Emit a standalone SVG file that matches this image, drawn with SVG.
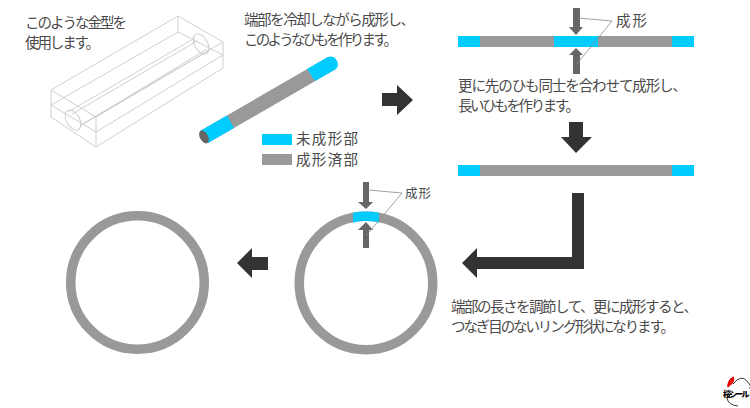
<svg xmlns="http://www.w3.org/2000/svg" width="750" height="408" viewBox="0 0 750 408">
<style>
text{font-family:"Noto Sans CJK JP","Noto Sans",sans-serif;font-size:14.500px;fill:#4a4a4a;font-weight:400}
.w{fill:none;stroke:#cacaca;stroke-width:.9}
.l{fill:none;stroke:#8a8a8a;stroke-width:.8}
.c{fill:#00ccff}.g{fill:#999}.d{fill:#333}.m{fill:#666}
</style>
<rect width="750" height="408" fill="#fff"/>
<g id="mold">
<path class="w" d="M51 90L178 16L223 42L96 117ZM51 90V117L96 147V117M96 147L223 68V42M51 105L96 132L223 55L178 32L51 105M178 16V32"/>
<path class="w" d="M68 112L195 38M72 114L197 41M80 126L207 49M84 123L208 51"/>
<ellipse class="w" cx="73" cy="120" rx="6.500" ry="11" transform="rotate(-30 73 120)"/>
<ellipse class="w" cx="201" cy="44" rx="6.500" ry="11" transform="rotate(-30 201 44)"/>
</g>
<g id="rod">
<path d="M200 131L328 57L336 69L208 143Z" class="g"/>
<path d="M200 131L227 115.500L234 128L208 143Z" class="c"/>
<path d="M307 69L328 57A7.500 7.500 0 0 1 336 69L315 81Z" class="c"/>
<ellipse cx="204" cy="137" rx="4" ry="7" transform="rotate(-30 204 137)" fill="#666"/>
</g>
<g id="legend">
<rect x="262" y="134" width="30" height="11" class="c"/><rect x="262" y="154" width="30" height="11" class="g"/>
<text x="296" y="144" textLength="62">未成形部</text><text x="296" y="165" textLength="62">成形済部</text>
</g>
<g id="texts">
<text x="25" y="28" textLength="102">このような金型を</text><text x="25" y="48" textLength="75">使用します。</text>
<text x="244" y="25" textLength="171">端部を冷却しながら成形し、</text><text x="244" y="45" textLength="154">このようなひもを作ります。</text>
<text x="458" y="91" textLength="229">更に先のひも同士を合わせて成形し、</text><text x="458" y="111" textLength="122">長いひもを作ります。</text>
<text x="451" y="312" textLength="247">端部の長さを調節して、更に成形すると、</text><text x="451" y="332" textLength="224">つなぎ目のないリング形状になります。</text>
<text x="616" y="26" textLength="31">成形</text>
<text x="405" y="198" textLength="26" style="font-size:12.500px">成形</text>
</g>
<g id="bar1"><rect x="458" y="36" width="236" height="11" class="g"/><rect x="458" y="36" width="22" height="11" class="c"/><rect x="554" y="36" width="44" height="11" class="c"/><rect x="672" y="36" width="22" height="11" class="c"/></g>
<g id="bar2"><rect x="458" y="165" width="236" height="11" class="g"/><rect x="458" y="165" width="22" height="11" class="c"/><rect x="672" y="165" width="22" height="11" class="c"/></g>
<g id="ring1"><circle cx="366" cy="283" r="66.750" fill="none" stroke="#999" stroke-width="9.500"/><path class="c" d="M353 212.700A71.500 71.500 0 0 1 379 212.700V222.400A62 62 0 0 0 353 222.400Z"/></g>
<g id="ring2"><circle cx="137.500" cy="282.500" r="66.750" fill="none" stroke="#999" stroke-width="9.500"/></g>
<g id="connectors">
<path class="d" d="M382 93H397V85L413 100L397 115V106H382Z"/>
<path class="d" d="M569 122H583V137H592L576 153L561 137H569Z"/>
<path class="d" d="M572 193H584V269H477V278L462 263L477 248V257H572Z"/>
<path class="d" d="M268 257V270H252V278L237 263L252 248V257Z"/>
<path class="m" d="M573 8H580V27H583L576 35L569 27H573ZM573 74H580V55H583L576 48L569 55H573Z"/>
<path class="l" d="M578 18L612 21L576 65"/>
<path class="m" d="M363 182H369V202H373L366 209L358 202H363ZM363 248H369V230H373L366 222L358 230H363Z"/>
<path class="l" d="M368 190L402 193L366 236"/>
</g>
<g id="logo">
<path d="M733 384Q741 374 747 381T749 388M727 398Q728 405 738 406" fill="none" stroke="#222" stroke-width=".9"/>
<path d="M728 387Q729 380 733 378Q734 382 729 385" stroke="#e00" stroke-width="2.200" fill="none"/>
<text x="723" y="397" textLength="26.500" style="font-size:8px;font-weight:900;fill:#000">桜シール</text>
</g>
</svg>
